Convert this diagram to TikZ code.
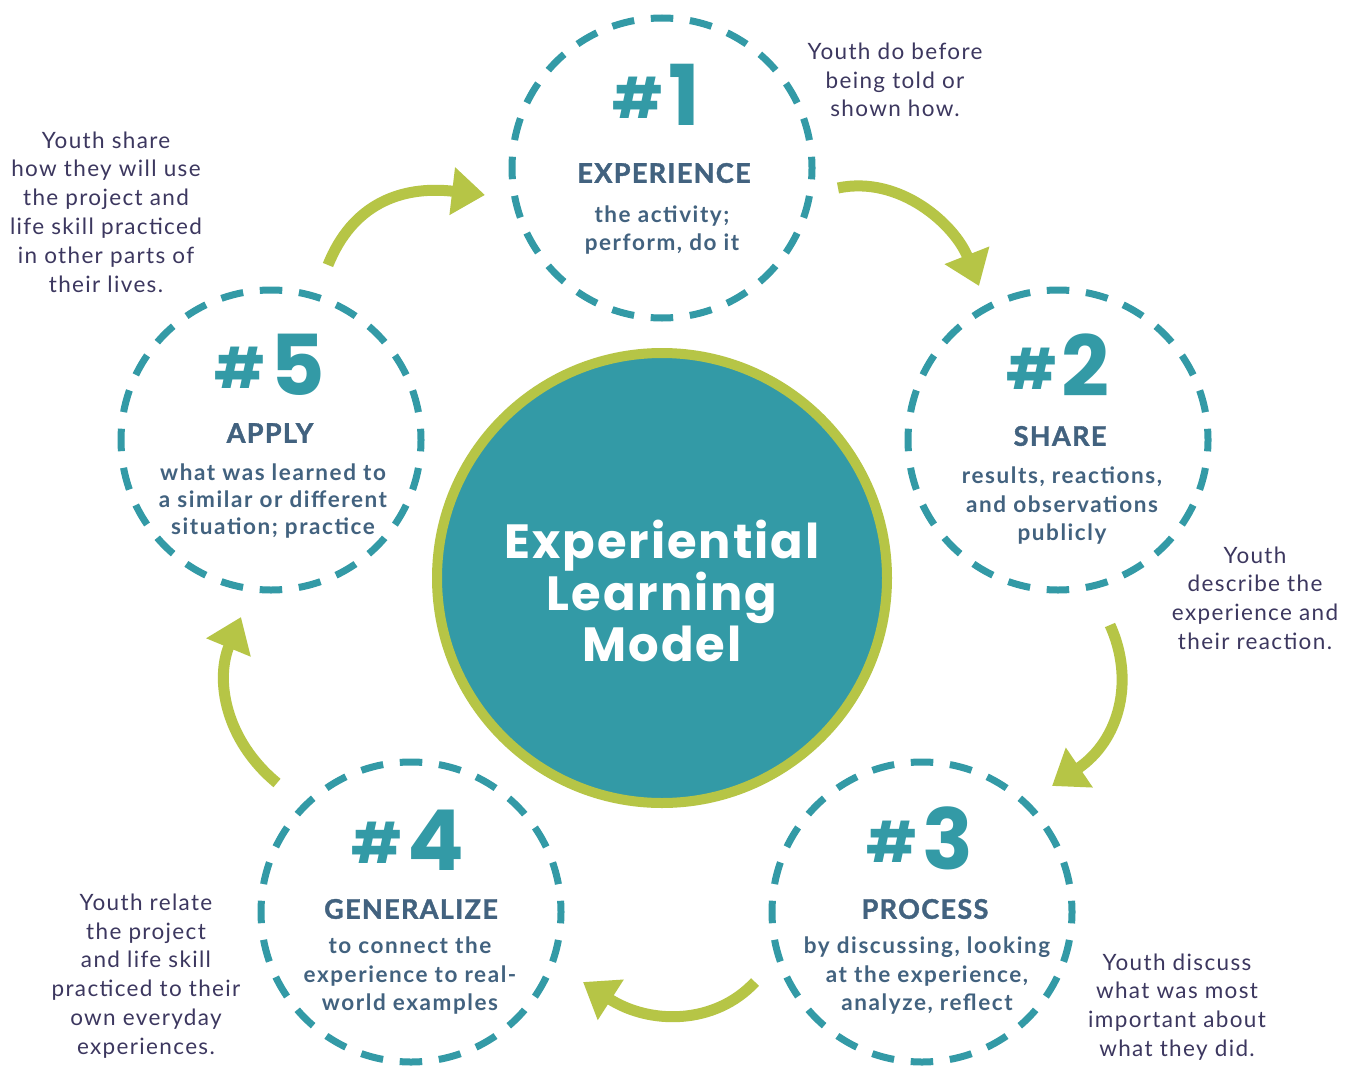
\documentclass[tikz,border=0pt]{standalone}
\usepackage{fontspec}
\setmainfont{Lato}
\newfontfamily\popp{Poppins}
\usetikzlibrary{arrows.meta}
\definecolor{elmteal}{HTML}{339AA6}
\definecolor{elmgreen}{HTML}{B6C546}
\definecolor{elmslate}{HTML}{42627F}
\definecolor{elmnavy}{HTML}{3C375F}
\tikzset{
  stage/.style={circle, draw=elmteal, line width=7pt, minimum size=300pt, inner sep=0pt,
    dash pattern=on 22.5pt off 16.77pt, dash phase=11.25pt},
  hub/.style={circle, fill=elmteal, draw=elmgreen, line width=10pt, minimum size=450pt, inner sep=0pt},
  hubtext/.style={text=white, align=center, font=\popp\bfseries\fontsize{48}{51}\selectfont\addfontfeatures{LetterSpace=4}},
  num/.style={text=elmteal, inner sep=0pt, font=\popp\bfseries\fontsize{84}{84}\selectfont},
  head/.style={text=elmslate, inner sep=0pt, font=\bfseries\fontsize{27}{30}\selectfont\addfontfeatures{LetterSpace=5,FakeBold=1.5}},
  sub/.style={text=elmslate, align=center, inner sep=0pt, font=\bfseries\fontsize{22.5}{28.5}\selectfont\addfontfeatures{LetterSpace=7}},
  note/.style={text=elmnavy, align=center, inner sep=0pt, font=\fontsize{22.5}{28.8}\selectfont\addfontfeatures{LetterSpace=6}},
  cyc/.style={draw=elmgreen, line width=11pt, -{Triangle[length=33pt,width=46pt]}}
}
\newcommand{\hsh}{\raisebox{7pt}{\fontsize{56}{56}\selectfont\#}\hspace{5pt}}
\begin{document}
\begin{tikzpicture}[x=1pt,y=-1pt]
\fill[white] (0,0) rectangle (1356,1070);
\useasboundingbox (0,0) rectangle (1356,1070);

% central hub
\node[hub] (hub) at (662,578) {};
\node[hubtext] (title) at (662,591) {Experiential\\Learning\\Model};

% stage circles
\node[stage] (s1) at (662,168) {};
\node[stage] (s2) at (1058,440) {};
\node[stage] (s3) at (922,912) {};
\node[stage] (s4) at (411,912) {};
\node[stage] (s5) at (271,440) {};

% numbers
\node[num] (n1) at (656,95) {\hsh 1};
\node[num] (n2) at (1058,365) {\hsh 2};
\node[num] (n3) at (920,838) {\hsh 3};
\node[num] (n4) at (408,840) {\hsh 4};
\node[num] (n5) at (270,365) {\hsh 5};

% headings
\node[head] (h1) at (664,173) {EXPERIENCE};
\node[head] (h2) at (1060,436) {SHARE};
\node[head] (h3) at (925,909) {PROCESS};
\node[head] (h4) at (411,909) {GENERALIZE};
\node[head] (h5) at (270,433) {APPLY};

% sub texts
\node[sub] (d1) at (662,230) {the activity;\\perform, do it};
\node[sub] (d2) at (1062,506) {results, reactions,\\and observations\\publicly};
\node[sub] (d3) at (927,976) {by discussing, looking\\at the experience,\\analyze, reflect};
\node[sub] (d4) at (410,976) {to connect the\\experience to real-\\world examples};
\node[sub, font=\bfseries\fontsize{22.5}{27}\selectfont\addfontfeatures{LetterSpace=7}] (d5) at (273,501) {what was learned to\\a similar or different\\situation; practice};

% callouts
\node[note] (c1) at (895,80) {Youth do before\\being told or\\shown how.};
\node[note] (c5) at (106,212) {Youth share\\how they will use\\the project and\\life skill practiced\\in other parts of\\their lives.};
\node[note] (c2) at (1255,598) {Youth\\describe the\\experience and\\their reaction.};
\node[note] (c3) at (1177,1007) {Youth discuss\\what was most\\important about\\what they did.};
\node[note] (c4) at (146,976) {Youth relate\\the project\\and life skill\\practiced to their\\own everyday\\experiences.};

% cycle arrows
\coordinate (a51s) at (328,265);
\coordinate (a51e) at (485,195);
\coordinate (a12s) at (838,188);
\coordinate (a12e) at (979,286);
\coordinate (a23s) at (1110,625);
\coordinate (a23e) at (1052,786);
\coordinate (a34s) at (755,982);
\coordinate (a34e) at (583,982);
\coordinate (a45s) at (277,783);
\coordinate (a45e) at (241,617);

\draw[cyc] (a51s) .. controls (352,205) and (400,185) .. (a51e);
\draw[cyc] (a12s) .. controls (900,175) and (955,225) .. (a12e);
\draw[cyc] (a23s) .. controls (1135,680) and (1120,740) .. (a23e);
\draw[cyc] (a34s) .. controls (715,1025) and (650,1025) .. (a34e);
\draw[cyc] (a45s) .. controls (225,740) and (215,680) .. (a45e);
\end{tikzpicture}
\end{document}
